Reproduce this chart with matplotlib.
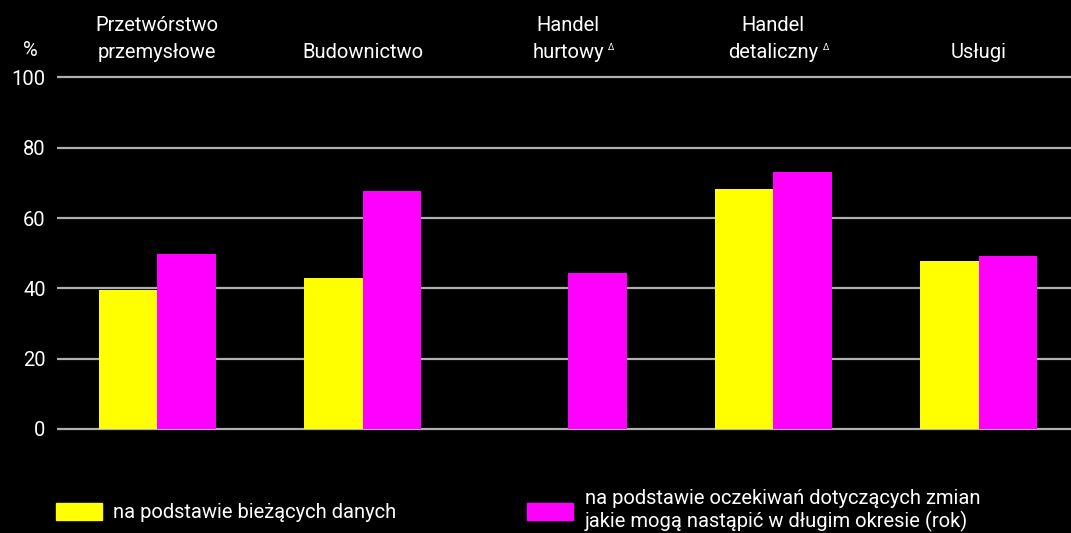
import numpy as np
import matplotlib.pyplot as plt
from matplotlib.patches import Patch

# Dane
kategorie = ['Przetwórstwo\nprzemysłowe', 'Budownictwo', 'Handel\nhurtowy',
             'Handel\ndetaliczny', 'Usługi']
z_przypisem = [False, False, True, True, False]
biezace = [39.5, 42.9, np.nan, 68.2, 47.7]
oczekiwania = [49.7, 67.6, 44.3, 73.0, 49.1]
etykiety = ['na podstawie bieżących danych',
            'na podstawie oczekiwań dotyczących zmian\njakie mogą nastąpić w długim okresie (rok)']
yticks = [0, 20, 40, 60, 80, 100]

plt.rcParams['font.family'] = ['Roboto', 'DejaVu Sans']

fs = 14.5
fig = plt.figure(figsize=(10.71, 5.33), dpi=100, facecolor='black')
ax = fig.add_axes([0.053, 0.190, 0.947, 0.670], facecolor='black')

x = np.arange(len(kategorie))
w = 0.285
ax.bar(x - w / 2, biezace, w, color='#ffff00', zorder=3)
ax.bar(x + w / 2, oczekiwania, w, color='#ff00ff', zorder=3)

ax.set_xlim(-0.49, 4.45)
ax.set_ylim(-0.8, 100.8)
ax.set_yticks(yticks)
ax.yaxis.grid(True, color='#b0b0b0', linewidth=1.6, zorder=0)
ax.set_axisbelow(True)
for s in ax.spines.values():
    s.set_visible(False)
ax.tick_params(axis='y', length=0, pad=8, labelsize=fs, labelcolor='white')
ax.tick_params(axis='x', length=0, labeltop=True, labelbottom=False,
               labelsize=fs, labelcolor='white', pad=9)
ax.set_xticks(x)
ax.set_xticklabels(kategorie, linespacing=1.55)

# mały trójkąt (przypis) przy etykietach handlu
for lab, znak in zip(ax.xaxis.get_ticklabels(), z_przypisem):
    if znak:
        ax.annotate('Δ', xy=(1, 0.22), xycoords=lab, xytext=(3, 0),
                    textcoords='offset points', fontsize=6.5, color='white',
                    ha='left', va='bottom')

fig.text(0.028, 0.905, '%', color='white', fontsize=fs, ha='center', va='center')

uchwyty = [Patch(color='#ffff00'), Patch(color='#ff00ff')]
fig.legend(uchwyty, etykiety, loc='lower left', bbox_to_anchor=(0.035, -0.033), ncol=2,
           frameon=False, fontsize=fs, labelcolor='white', handlelength=2.3,
           handleheight=0.9, handletextpad=0.55, columnspacing=6.5, labelspacing=0.1)

fig.savefig('out.png', dpi=100, facecolor='black')
